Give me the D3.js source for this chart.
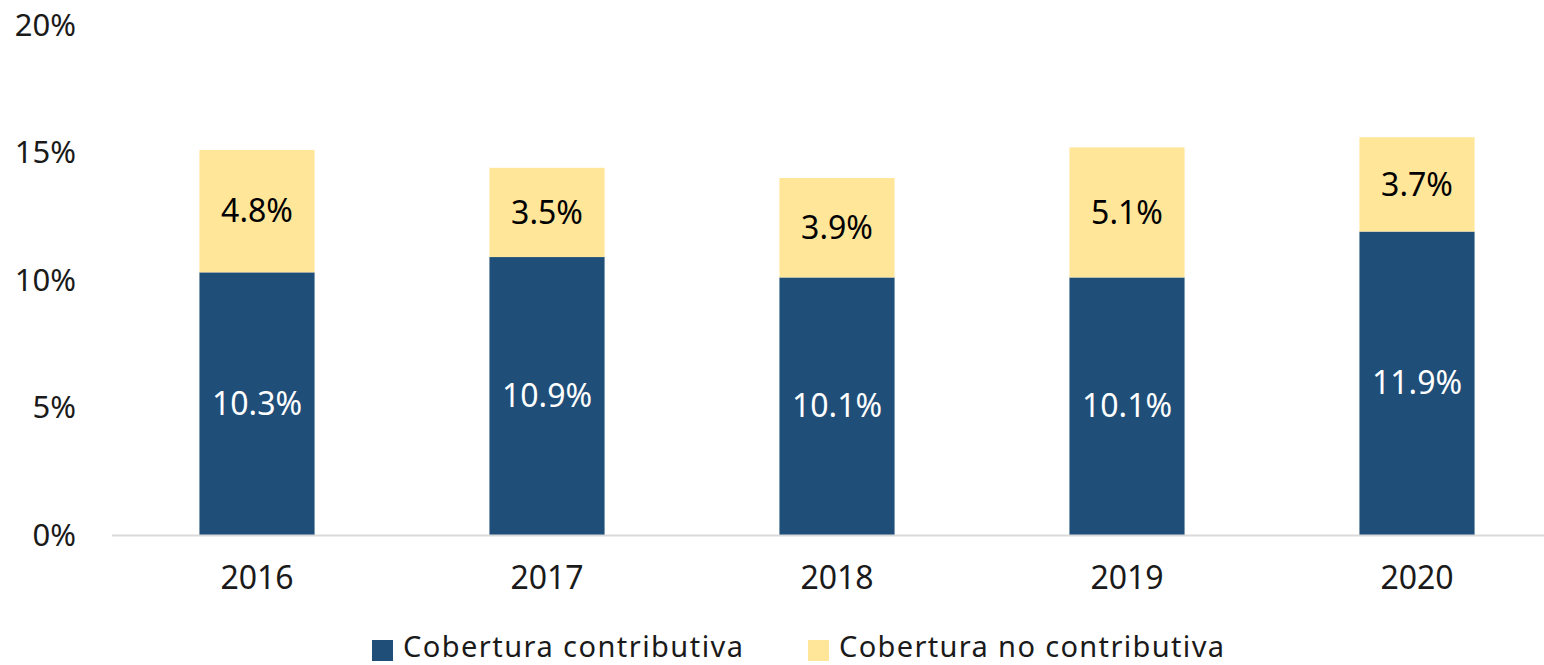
<!DOCTYPE html>
<html>
<head>
<meta charset="utf-8">
<script src="https://cdn.jsdelivr.net/npm/d3@7"></script>
<style>
  body { margin: 0; background: #fff; }
  text { font-family: "Noto Sans", "Open Sans", sans-serif; }
</style>
</head>
<body>
<svg id="chart"></svg>
<script>
// data
var years = ["2016", "2017", "2018", "2019", "2020"];
var contributiva = [10.3, 10.9, 10.1, 10.1, 11.9];
var noContributiva = [4.8, 3.5, 3.9, 5.1, 3.7];
var yTicks = [0, 5, 10, 15, 20];
var seriesNames = ["Cobertura contributiva", "Cobertura no contributiva"];
var colors = ["#1F4E79", "#FFE699"];

var width = 1544, height = 665;

var svg = d3.select("#chart")
  .attr("width", width)
  .attr("height", height);

var x = d3.scaleBand()
  .domain(years)
  .range([112, 1562])
  .paddingInner(0.603)
  .paddingOuter(0.3015);

var y = d3.scaleLinear()
  .domain([0, 20])
  .range([535, 25]);

// stack the two series
var rows = years.map(function(yr, i) {
  return { year: yr, c: contributiva[i], nc: noContributiva[i] };
});
var stacked = d3.stack().keys(["c", "nc"])(rows);

// y tick labels (no axis line, no gridlines)
svg.append("g")
  .selectAll("text")
  .data(yTicks).enter()
  .append("text")
    .attr("x", 76)
    .attr("y", function(d) { return y(d); })
    .attr("dy", "0.35em")
    .attr("text-anchor", "end")
    .attr("font-size", 31)
    .attr("fill", "#1a1a1a")
    .text(function(d) { return d + "%"; });

// bars
var layers = svg.append("g")
  .selectAll("g")
  .data(stacked).enter()
  .append("g")
    .attr("fill", function(d, i) { return colors[i]; });

layers.selectAll("rect")
  .data(function(d) { return d; }).enter()
  .append("rect")
    .attr("x", function(d) { return x(d.data.year); })
    .attr("width", x.bandwidth())
    .attr("y", function(d) { return y(d[1]); })
    .attr("height", function(d) { return y(d[0]) - y(d[1]); });

// data labels in the middle of each segment
stacked.forEach(function(layer, li) {
  svg.append("g")
    .selectAll("text")
    .data(layer).enter()
    .append("text")
      .attr("x", function(d) { return x(d.data.year) + x.bandwidth() / 2; })
      .attr("y", function(d) { return (y(d[0]) + y(d[1])) / 2; })
      .attr("dy", "0.35em")
      .attr("text-anchor", "middle")
      .attr("font-size", 32)
      .attr("fill", li === 0 ? "#ffffff" : "#000000")
      .text(function(d) { return (d[1] - d[0]).toFixed(1) + "%"; });
});

// x axis
var xAxis = svg.append("g")
  .attr("transform", "translate(0," + y(0) + ")")
  .call(d3.axisBottom(x).tickSize(0).tickPadding(31));
xAxis.select(".domain")
  .attr("stroke", "#D9D9D9")
  .attr("stroke-width", 2)
  .attr("d", "M112,0.5H1562");
xAxis.selectAll("text")
  .attr("font-size", 32)
  .attr("fill", "#1a1a1a")
  .attr("font-family", "Noto Sans, Open Sans, sans-serif");

// legend
var legendX = [372, 808];
var legendW = [340, 385];
var legend = svg.append("g")
  .selectAll("g")
  .data(seriesNames).enter()
  .append("g")
    .attr("transform", function(d, i) { return "translate(" + legendX[i] + ",640)"; });

legend.append("rect")
  .attr("width", 21)
  .attr("height", 21)
  .attr("fill", function(d, i) { return colors[i]; });

legend.append("text")
  .attr("x", 31)
  .attr("y", 17)
  .attr("font-size", 29)
  .attr("fill", "#1a1a1a")
  .attr("textLength", function(d, i) { return legendW[i]; })
  .attr("lengthAdjust", "spacing")
  .text(function(d) { return d; });
</script>
</body>
</html>
